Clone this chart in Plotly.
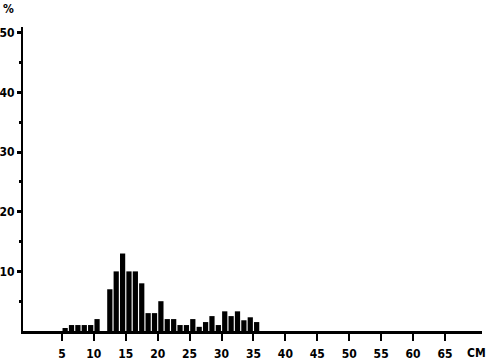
import plotly.graph_objects as go

# histogram bins (left edge, cm) and percentages
bin_cm = list(range(5, 37))
pct = [0.5, 1, 1, 1, 1, 2, 0, 7, 10, 13, 10, 10, 8, 3, 3, 5,
       2, 2, 1, 1, 2, 0.7, 1.5, 2.5, 1, 3.3, 2.5, 3.3, 1.8, 2.3, 1.5, 0]

x_ticks = [5, 10, 15, 20, 25, 30, 35, 40, 45, 50, 55, 60, 65]
y_ticks = [10, 20, 30, 40, 50]

font = dict(family="DejaVu Sans Condensed", size=12, color="black", weight="bold")

fig = go.Figure()
fig.add_trace(go.Bar(
    x=[b + 0.5 for b in bin_cm], y=pct, width=0.82,
    marker=dict(color="black", line=dict(width=0)),
))

fig.update_layout(
    width=487, height=361,
    margin=dict(l=23, r=5, t=27, b=30),
    paper_bgcolor="white", plot_bgcolor="white",
    showlegend=False,
    font=font,
    xaxis=dict(
        range=[-1.1, 70.8], showgrid=False, zeroline=False, automargin=False,
        showline=True, linecolor="black", linewidth=3,
        tickvals=x_ticks, ticktext=[str(v) for v in x_ticks],
        ticks="outside", ticklen=7, tickwidth=2, tickcolor="black",
        ticklabelstandoff=3, tickfont=font,
    ),
    yaxis=dict(
        range=[0, 51.0], showgrid=False, zeroline=False, automargin=False,
        showline=True, linecolor="black", linewidth=2,
        tickvals=y_ticks, ticktext=[str(v) for v in y_ticks],
        ticks="outside", ticklen=4, tickwidth=3, tickcolor="black",
        tickfont=font,
        minor=dict(tickvals=[5, 15, 25, 35, 45], ticks="outside", ticklen=2,
                   tickwidth=3, tickcolor="black"),
    ),
    annotations=[
        dict(text="%", x=0, y=1.0, xref="paper", yref="paper", xshift=-15, yshift=18,
             xanchor="center", yanchor="middle", showarrow=False, font=font),
        dict(text="CM", x=70, y=0, xref="x", yref="paper", yshift=-22,
             xanchor="center", yanchor="middle", showarrow=False, font=font),
    ],
)

fig.write_html("out.html")
